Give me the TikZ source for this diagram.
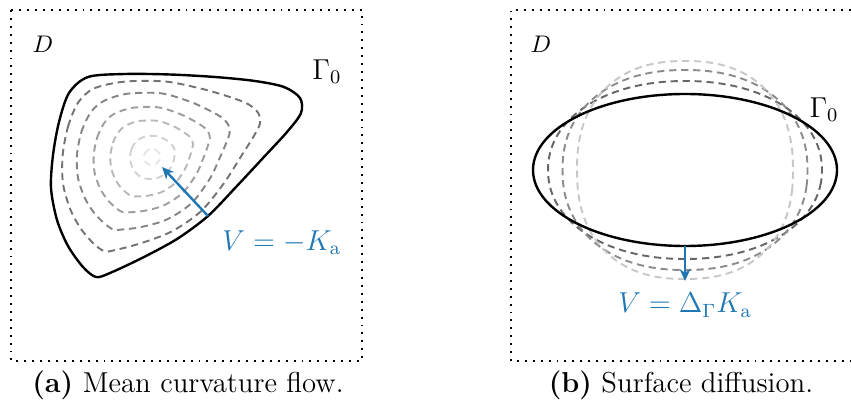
\documentclass[tikz,border=0pt]{standalone}
\usepackage{tikz}
\usepackage{xcolor}
\usetikzlibrary{arrows.meta}
\definecolor{flowblue}{HTML}{1F77B4}

\tikzset{
  domainbox/.style={line width=0.8pt, dash pattern=on 0.8pt off 2.5pt},
  interface/.style={line width=1pt},
  isoline/.style={line width=0.8pt, dash pattern=on 3pt off 2pt},
  velocity/.style={flowblue, line width=1pt, -{Stealth[length=5pt,width=4.5pt]}},
  lab/.style={font=\large},
  caption/.style={font=\fontsize{12}{14}\selectfont},
}

\begin{document}
\begin{tikzpicture}[x=0.41667pt,y=-0.41667pt]
  \useasboundingbox (0,0) rectangle (851,407);
  \def\xsA{{-97,-91,-81,-62,-25,20,65,105,134,150,151,137,113,86,58,27,-8,-40,-54,-67,-82,-93,-99}}
  \def\ysA{{-2,-35,-64,-80,-83,-82.5,-80,-76,-70,-59,-44,-25,1,30,59,82,101,116,120,110,89,63,31}}

  \draw[domainbox] (11,10) rectangle (362,361);
  \node (domA) at (43,44) {$D$};
  \foreach \a/\b/\sx/\g in {0.55/31/-3/55, 0.3/40/-4/48, 0.2/34/-3/38, 0.12/27/-1/28, 0.03/19/2/18, 0/8/2/10}
    \draw[isoline, black!\g, shift={(150+\sx,157)}] plot[smooth cycle, samples at={0,...,22}, variable=\i]
      ({\a*\xsA[\i]+\b*\xsA[\i]/veclen(\xsA[\i],\ysA[\i])}, {\a*\ysA[\i]+\b*\ysA[\i]/veclen(\xsA[\i],\ysA[\i])});
  \draw[interface, shift={(150,157)}] plot[smooth cycle, samples at={0,...,22}, variable=\i] ({\xsA[\i]}, {\ysA[\i]});
  \node[lab] (gammaA) at (327,72) {$\Gamma_0$};
  \coordinate (footA) at (208,216);
  \coordinate (tipA) at (162,167);
  \draw[velocity] (footA) -- (tipA);
  \node[lab, flowblue, anchor=base west] (velA) at (214,250) {$V=-K_{\mathrm{a}}$};
  \node[caption] (capA) at (188,385) {\textbf{(a)} Mean curvature flow.};

  \draw[domainbox] (851,10) -- (511,10) -- (511,361) -- (851,361);
  \node (domB) at (541,44) {$D$};
  \foreach \a/\b/\e/\g in {137/89/-0.05/60, 122.5/100/-0.1/45, 108/109/-0.14/22}
    \draw[isoline, black!\g, shift={(685,170)}] plot[smooth cycle, samples at={2.5,7.5,...,357.5}, variable=\t]
      ({\a*cos(\t)*abs(cos(\t))^(\e)}, {\b*sin(\t)*abs(sin(\t))^(\e)});
  \draw[interface] (685,170) ellipse [x radius=152, y radius=76];
  \node[lab] (gammaB) at (824,110) {$\Gamma_0$};
  \coordinate (footB) at (685,246);
  \coordinate (tipB) at (685,281);
  \draw[velocity] (footB) -- (tipB);
  \node[lab, flowblue] (velB) at (685,305) {$V=\Delta_\Gamma K_{\mathrm{a}}$};
  \node[caption] (capB) at (681,385) {\textbf{(b)} Surface diffusion.};
\end{tikzpicture}
\end{document}
